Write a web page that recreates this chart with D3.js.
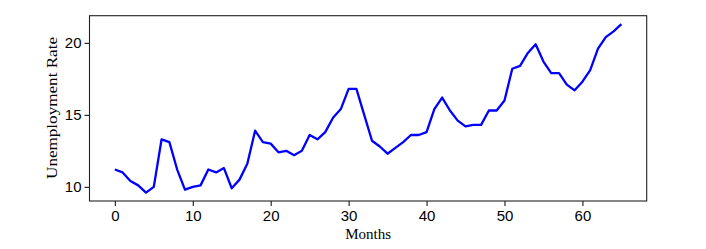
<!DOCTYPE html>
<html>
<head>
<meta charset="utf-8">
<script src="https://cdn.jsdelivr.net/npm/d3@7"></script>
<style>
  body { margin: 0; background: #fff; }
  .tick text { font-family: "Liberation Sans", Arial, sans-serif; font-size: 15px; fill: #000; }
  .label { font-family: "Liberation Serif", "Times New Roman", serif; font-size: 15px; fill: #000; }
</style>
</head>
<body>
<svg id="chart"></svg>
<script>
// unemployment rate per month (month = index)
const rate = [
  11.2, 11.0, 10.4, 10.1, 9.6, 10.0, 13.3, 13.1, 11.2, 9.8,
  10.0, 10.1, 11.2, 11.0, 11.3, 9.9, 10.5, 11.6, 13.9, 13.1,
  13.0, 12.4, 12.5, 12.2, 12.5, 13.6, 13.3, 13.8, 14.8, 15.4,
  16.8, 16.8, 15.0, 13.2, 12.8, 12.3, 12.7, 13.1, 13.6, 13.6,
  13.8, 15.4, 16.2, 15.3, 14.6, 14.2, 14.3, 14.3, 15.3, 15.3,
  16.0, 18.2, 18.4, 19.3, 19.9, 18.7, 17.9, 17.9, 17.1, 16.7,
  17.3, 18.1, 19.6, 20.4, 20.8, 21.3
];
const months = rate.map((d, i) => i);
const xTicks = [0, 10, 20, 30, 40, 50, 60];
const yTicks = [10, 15, 20];

const size = { w: 706, h: 249 };
const box = { l: 89.5, r: 646.7, t: 15.7, b: 201 };

const svg = d3.select("svg#chart").attr("width", size.w).attr("height", size.h);

// matplotlib-style 5% margins
const pad = (ext) => {
  const m = (ext[1] - ext[0]) * 0.05;
  return [ext[0] - m, ext[1] + m];
};

const x = d3.scaleLinear().domain(pad(d3.extent(months))).range([box.l, box.r]);
const y = d3.scaleLinear().domain(pad(d3.extent(rate))).range([box.b, box.t]);

// axes
svg.append("g")
  .attr("transform", `translate(0, ${box.b})`)
  .call(d3.axisBottom(x).tickValues(xTicks).tickSize(5).tickPadding(4).tickFormat(d3.format("d")))
  .call((g) => g.select(".domain").remove())
  .call((g) => g.selectAll("line").attr("stroke", "#000"));

svg.append("g")
  .attr("transform", `translate(${box.l}, 0)`)
  .call(d3.axisLeft(y).tickValues(yTicks).tickSize(5).tickPadding(3).tickFormat(d3.format("d")))
  .call((g) => g.select(".domain").remove())
  .call((g) => g.selectAll("line").attr("stroke", "#000"));

// frame
svg.append("rect")
  .attr("x", box.l)
  .attr("y", box.t)
  .attr("width", box.r - box.l)
  .attr("height", box.b - box.t)
  .attr("fill", "none")
  .attr("stroke", "#222")
  .attr("stroke-width", 1.1);

// line
const line = d3.line().x((d, i) => x(months[i])).y((d) => y(d));
svg.append("path")
  .datum(rate)
  .attr("d", line)
  .attr("fill", "none")
  .attr("stroke", "#0000ff")
  .attr("stroke-width", 2.3)
  .attr("stroke-linejoin", "round");

// labels
svg.append("text")
  .classed("label", true)
  .attr("x", (box.l + box.r) / 2)
  .attr("y", 238.5)
  .attr("text-anchor", "middle")
  .text("Months");

// y label is stretched along its length in the original
svg.append("text")
  .classed("label", true)
  .attr("text-anchor", "middle")
  .attr("transform", `translate(57, 108) rotate(-90) scale(1.14, 1)`)
  .text("Unemployment Rate");
</script>
</body>
</html>
